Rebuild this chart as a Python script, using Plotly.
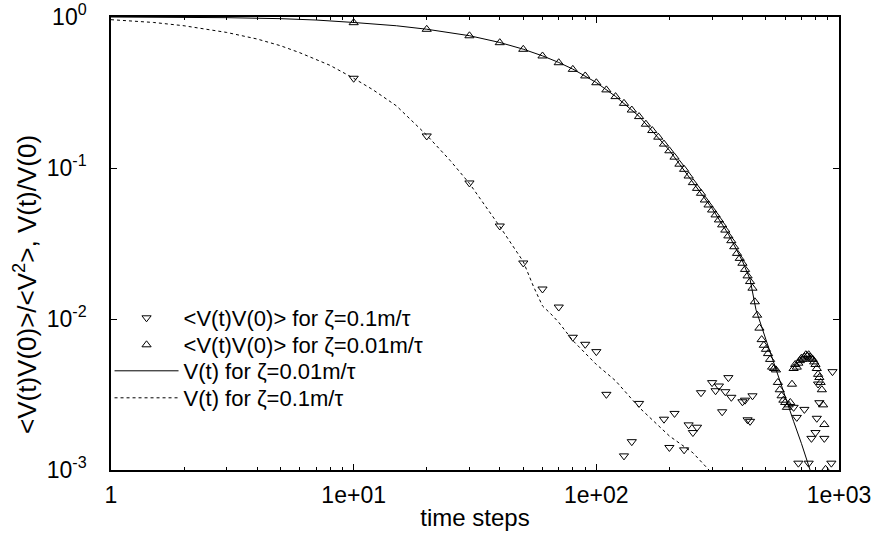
import plotly.graph_objects as go

# ---- data ----
# <V(t)V(0)>/<V^2> for zeta = 0.1 m/tau (down triangles)
t_dn = [10, 20, 30, 40, 50, 60, 70, 80, 90, 100, 110, 130, 140, 150, 190, 200, 210, 230,
        240, 250, 260, 270, 300, 310, 320, 330, 340, 350, 360, 400, 410, 420, 430, 440,
        650, 670, 680, 720, 750, 770, 800, 810, 820, 830, 870, 930, 940]
v_dn = [0.393, 0.163, 0.0796, 0.0413, 0.0235, 0.0158, 0.012, 0.00757, 0.0068, 0.00608,
        0.00317, 0.00124, 0.00154, 0.00276, 0.00217, 0.00141, 0.00237, 0.00136,
        0.00199, 0.00177, 0.00192, 0.00325, 0.00379, 0.00335, 0.0036, 0.00243, 0.0033,
        0.00409, 0.00303, 0.00283, 0.0029, 0.00215, 0.0021, 0.0031,
        0.0026, 0.00223, 0.00111, 0.00252, 0.00111, 0.00162, 0.00177, 0.0022, 0.00371,
        0.00279, 0.00162, 0.00111, 0.00448]

# <V(t)V(0)>/<V^2> for zeta = 0.01 m/tau (up triangles)
t_up = [10, 20, 30, 40, 50, 60, 70, 80, 90, 100, 110, 120, 130, 140, 150, 160, 170, 180,
        190, 200, 210, 220, 230, 240, 250, 260, 270, 280, 290, 300, 310, 320, 330, 340,
        350, 360, 370, 380, 390, 400, 410, 420, 430, 440, 450, 460, 470, 480, 490, 500,
        510, 520, 530, 540, 550, 560, 570, 580, 590, 600, 610, 620, 630, 640, 650, 660,
        670, 680, 690, 700, 710, 720, 730, 740, 750, 760, 770, 780, 790, 800, 810, 820,
        830, 840, 850, 860, 870, 880]
v_up = [0.917, 0.829, 0.751, 0.676, 0.611, 0.552, 0.498, 0.450, 0.407, 0.367, 0.329,
        0.297, 0.268, 0.242, 0.219, 0.195, 0.177, 0.160, 0.144, 0.130, 0.118, 0.106,
        0.098, 0.0885, 0.080, 0.0733, 0.068, 0.0614, 0.0569, 0.0527, 0.0489, 0.0453,
        0.042, 0.0388, 0.0355, 0.033, 0.0301, 0.0272, 0.0252, 0.0234, 0.0213, 0.0193,
        0.0177, 0.016, 0.013, 0.0106, 0.0087, 0.0073, 0.0067, 0.0063, 0.0059, 0.0054,
        0.0048, 0.0047, 0.0046, 0.0038, 0.0034, 0.0031, 0.0029, 0.0028, 0.0026, 0.0027,
        0.0028, 0.0037, 0.0047, 0.0050, 0.0048, 0.0051, 0.0053, 0.0055, 0.0054, 0.0056,
        0.0058, 0.0057, 0.0058, 0.0056, 0.0055, 0.0054, 0.0052, 0.0050, 0.0047, 0.0043,
        0.0041, 0.0038, 0.0034, 0.0027, 0.0020, 0.00101]

# V(t)/V(0) for zeta = 0.01 m/tau (solid line)
t_sol = [1, 2, 3, 5, 7, 10, 15, 20, 30, 40, 50, 60, 70, 80, 100, 120, 150, 200, 250,
         300, 350, 400, 430, 455, 500, 550, 600, 650, 700, 760]
v_sol = [1.0, 0.995, 0.99, 0.975, 0.955, 0.92, 0.875, 0.83, 0.752, 0.678, 0.612, 0.553,
         0.5, 0.452, 0.368, 0.298, 0.22, 0.131, 0.081, 0.054, 0.0365, 0.0242, 0.0183,
         0.0115, 0.0073, 0.0046, 0.0031, 0.0021, 0.0015, 0.001]

# V(t)/V(0) for zeta = 0.1 m/tau (dotted line)
t_dot = [1, 1.5, 2, 3, 4, 5, 6, 7, 8, 10, 12, 15, 20, 25, 30, 40, 50, 55, 60, 65, 70,
         80, 100, 120, 150, 200, 250, 300]
v_dot = [0.96, 0.92, 0.875, 0.79, 0.715, 0.645, 0.58, 0.525, 0.478, 0.393, 0.33, 0.258,
         0.165, 0.112, 0.079, 0.041, 0.024, 0.0165, 0.0122, 0.0108, 0.0095,
         0.0072, 0.0050, 0.0039, 0.0026, 0.00168, 0.0013, 0.00095]

x_tickvals = [1, 10, 100, 1000]
x_ticktext = ["1", "1e+01", "1e+02", "1e+03"]
x_minor = [2, 3, 4, 5, 6, 7, 8, 9, 20, 30, 40, 50, 60, 70, 80, 90,
           200, 300, 400, 500, 600, 700, 800, 900]
y_tickvals = [0.001, 0.01, 0.1, 1]
y_ticktext = ["10<sup>-3</sup>", "10<sup>-2</sup>", "10<sup>-1</sup>", "10<sup>0</sup>"]

FONT = "Liberation Sans, Arial, Helvetica, sans-serif"
TICK_SIZE = 23
LEG_SIZE = 22

fig = go.Figure()
fig.add_trace(go.Scatter(
    x=t_dn, y=v_dn, mode="markers", legend="legend",
    name="&lt;V(t)V(0)&gt; for ζ=0.1m/τ",
    marker=dict(symbol="triangle-down-open", size=8, color="black", line=dict(width=1))))
fig.add_trace(go.Scatter(
    x=t_up, y=v_up, mode="markers", legend="legend2",
    name="&lt;V(t)V(0)&gt; for ζ=0.01m/τ",
    marker=dict(symbol="triangle-up-open", size=8, color="black", line=dict(width=1))))
fig.add_trace(go.Scatter(
    x=t_sol, y=v_sol, mode="lines", legend="legend3",
    name="V(t) for ζ=0.01m/τ",
    line=dict(color="black", width=1)))
fig.add_trace(go.Scatter(
    x=t_dot, y=v_dot, mode="lines", legend="legend4",
    name="V(t) for ζ=0.1m/τ",
    line=dict(color="black", width=1, dash="dot")))

# plot area spans y = 17 .. 470 px; legend rows at 318, 345, 371, 398 px
def leg(ypx):
    return dict(x=-0.002, y=(470 - ypx) / 453.0, xanchor="left", yanchor="middle",
                bgcolor="rgba(0,0,0,0)", borderwidth=0, itemwidth=64,
                font=dict(family=FONT, size=LEG_SIZE, color="black"))

fig.update_layout(
    width=873, height=535,
    margin=dict(l=111, r=34, t=17, b=65, autoexpand=False),
    paper_bgcolor="white", plot_bgcolor="white",
    font=dict(family=FONT, size=TICK_SIZE, color="black"),
    showlegend=True,
    legend=leg(318), legend2=leg(345), legend3=leg(371), legend4=leg(398),
    annotations=[dict(
        text="&lt;V(t)V(0)&gt;/&lt;V<sup>2</sup>&gt;, V(t)/V(0)",
        xref="paper", yref="paper", x=(25 - 111) / 728.0, y=(470 - 285) / 453.0,
        xanchor="center", yanchor="middle", textangle=-90, showarrow=False,
        font=dict(family=FONT, size=26, color="black"))],
)
fig.update_xaxes(
    type="log", range=[0, 3], automargin=False,
    tickmode="array", tickvals=x_tickvals, ticktext=x_ticktext,
    ticks="inside", ticklen=6, tickcolor="black", tickwidth=1,
    minor=dict(ticks="inside", ticklen=3, tickcolor="black", tickvals=x_minor),
    showline=True, linecolor="black", linewidth=1.5, mirror="allticks",
    showgrid=False, zeroline=False,
    tickfont=dict(family=FONT, size=TICK_SIZE),
    ticklabelstandoff=4,
    title=dict(text="time steps", font=dict(family=FONT, size=24), standoff=2),
)
fig.update_yaxes(
    type="log", range=[-3, 0], automargin=False,
    tickmode="array", tickvals=y_tickvals, ticktext=y_ticktext,
    ticks="inside", ticklen=6, tickcolor="black", tickwidth=1,
    showline=True, linecolor="black", linewidth=1.5, mirror="allticks",
    showgrid=False, zeroline=False,
    tickfont=dict(family=FONT, size=TICK_SIZE),
    ticklabelstandoff=18,
)

fig.write_html("out.html", config={"displayModeBar": False},
               post_script="document.body.style.margin='0px';")
